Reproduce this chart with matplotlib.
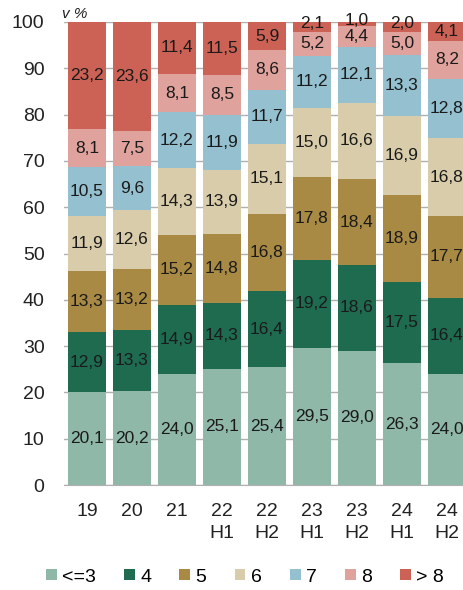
import matplotlib.pyplot as plt
import numpy as np

plt.rcParams['font.family'] = ['Liberation Sans', 'DejaVu Sans']

kategorie = ['19', '20', '21', '22\nH1', '22\nH2', '23\nH1', '23\nH2', '24\nH1', '24\nH2']
skupiny = ['<=3', '4', '5', '6', '7', '8', '> 8']
barvy = ['#8fb8a8', '#1e6b50', '#a88a45', '#d9ccaa', '#94c0d0', '#e0a29c', '#cc6155']

s3 = [20.1, 20.2, 24.0, 25.1, 25.4, 29.5, 29.0, 26.3, 24.0]
s4 = [12.9, 13.3, 14.9, 14.3, 16.4, 19.2, 18.6, 17.5, 16.4]
s5 = [13.3, 13.2, 15.2, 14.8, 16.8, 17.8, 18.4, 18.9, 17.7]
s6 = [11.9, 12.6, 14.3, 13.9, 15.1, 15.0, 16.6, 16.9, 16.8]
s7 = [10.5, 9.6, 12.2, 11.9, 11.7, 11.2, 12.1, 13.3, 12.8]
s8 = [8.1, 7.5, 8.1, 8.5, 8.6, 5.2, 4.4, 5.0, 8.2]
s9 = [23.2, 23.6, 11.4, 11.5, 5.9, 2.1, 1.0, 2.0, 4.1]
serie = [s3, s4, s5, s6, s7, s8, s9]

fig = plt.figure(figsize=(4.64, 5.9), dpi=100)
ax = fig.add_axes([64 / 464, 1 - 485 / 590, 1 - 64 / 464, (485 - 22) / 590])

x = np.arange(len(kategorie))
spodek = np.zeros(len(kategorie))
for nazev, hodnoty, barva in zip(skupiny, serie, barvy):
    h = np.array(hodnoty)
    ax.bar(x, h, 0.845, bottom=spodek, color=barva, label=nazev, zorder=2)
    for xi, b, v in zip(x, spodek, h):
        # male useky - popisek trochu vys
        posun = 0.8 if v < 3 else 0
        ax.text(xi, b + v / 2 + posun, f'{v:.1f}'.replace('.', ','), ha='center',
                va='center', fontsize=12.5, color='#1a1a1a', zorder=3)
    spodek += h

ax.set_ylim(0, 100)
ax.set_xlim(-0.51, 8.38)
ax.set_yticks(range(0, 101, 10))
ax.set_xticks(x)
ax.set_xticklabels(kategorie, linespacing=1.35)
ax.yaxis.grid(True, color='#b0b0b0', lw=1, zorder=0)
for s in ['top', 'right', 'left']:
    ax.spines[s].set_visible(False)
ax.spines['bottom'].set_color('#b0b0b0')
ax.tick_params(axis='both', length=0, labelsize=14, colors='#222222')
ax.tick_params(axis='x', pad=13)
ax.tick_params(axis='y', pad=14)

fig.text(62 / 464, 1 - 14 / 590, 'v %', style='italic', fontsize=11, color='#222222',
         ha='left', va='center')

fig.legend(loc='center', bbox_to_anchor=(245 / 464, 1 - 577 / 590), ncol=7, frameon=False,
           fontsize=14, handlelength=0.55, handleheight=0.55, handletextpad=0.28,
           columnspacing=1.45, borderaxespad=0)

fig.savefig('out.png', dpi=100)
